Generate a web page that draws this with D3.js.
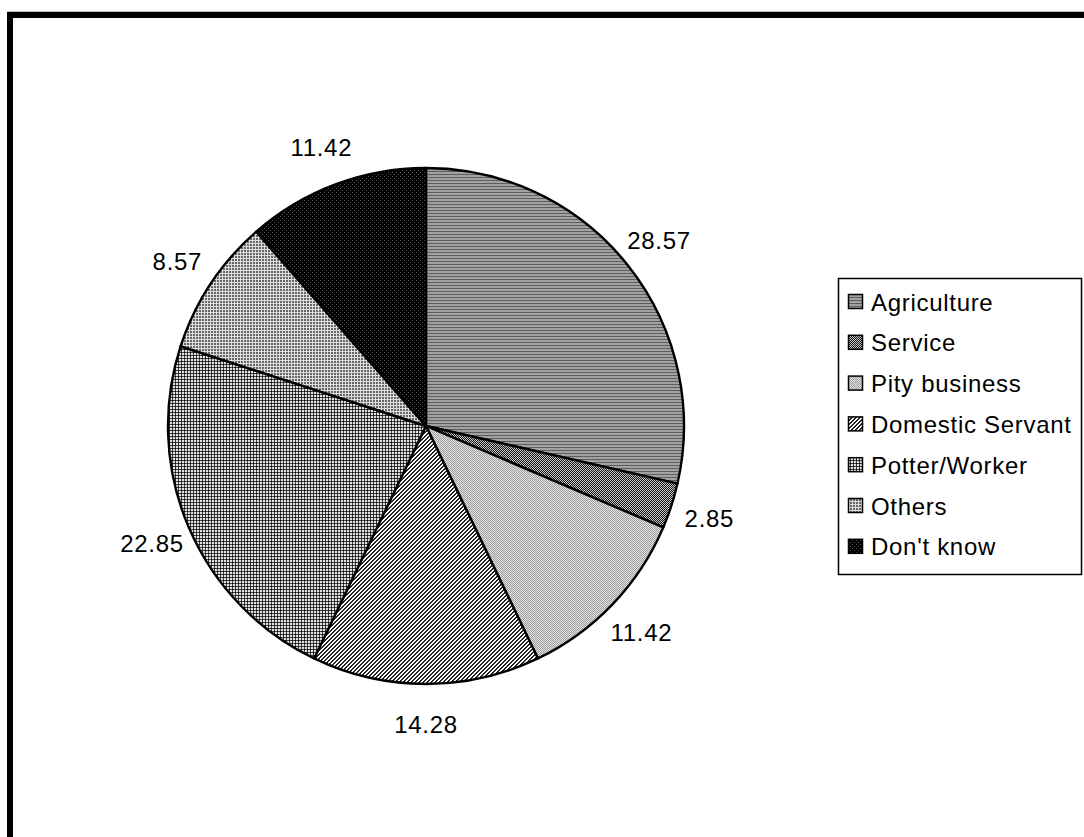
<!DOCTYPE html>
<html>
<head>
<meta charset="utf-8">
<script src="https://cdn.jsdelivr.net/npm/d3@7"></script>
<style>
  html, body { margin: 0; padding: 0; background: #fff; }
  svg { display: block; }
  text { font-family: "Liberation Sans", Arial, sans-serif; fill: #000; letter-spacing: 0.7px; }
</style>
</head>
<body>
<svg id="chart" width="1084" height="837"></svg>
<script>
// Occupation shares (%)
const categories = ["Agriculture", "Service", "Pity business", "Domestic Servant", "Potter/Worker", "Others", "Don't know"];
const values = [28.57, 2.85, 11.42, 14.28, 22.85, 8.57, 11.42];
const valueLabels = ["28.57", "2.85", "11.42", "14.28", "22.85", "8.57", "11.42"];

const svg = d3.select("#chart");
const W = 1084, H = 837;

// ---- fill patterns (pixel tiles) ----
const defs = svg.append("defs");
function tile(id, size, bg, pixels) {
  const p = defs.append("pattern")
    .attr("id", id).attr("patternUnits", "userSpaceOnUse")
    .attr("width", size[0]).attr("height", size[1]);
  p.append("rect").attr("width", size[0]).attr("height", size[1]).attr("fill", bg)
    .attr("shape-rendering", "crispEdges");
  pixels.forEach(([x, y, w, h, c]) => {
    p.append("rect").attr("x", x).attr("y", y).attr("width", w).attr("height", h)
      .attr("fill", c).attr("shape-rendering", "crispEdges");
  });
  return `url(#${id})`;
}

const fills = [
  // horizontal gray stripes
  tile("p-agri", [4, 3], "#a2a2a2", [[0, 0, 4, 1, "#5e5e5e"]]),
  // dark checker
  tile("p-serv", [2, 2], "#151515", [[0, 0, 1, 1, "#c8c8c8"], [1, 1, 1, 1, "#c8c8c8"]]),
  // light dotted
  tile("p-pity", [2, 2], "#e0e0e0", [[0, 0, 1, 1, "#a0a0a0"], [1, 1, 1, 1, "#a0a0a0"]]),
  // upward diagonal hatch
  tile("p-dom", [4, 4], "#ffffff", d3.range(16).map(i => [i % 4, Math.floor(i / 4)])
    .filter(([x, y]) => (x + y) % 4 < 2).map(([x, y]) => [x, y, 1, 1, "#222"])),
  // plaid grid
  tile("p-pot", [3, 3], "#e0e0e0", [[0, 1, 3, 1, "#404040"], [1, 0, 1, 3, "#404040"], [1, 1, 1, 1, "#000"]]),
  // fine light grid on gray
  tile("p-oth", [3, 3], "#666666", [[0, 0, 3, 1, "#dddddd"], [0, 0, 1, 3, "#dddddd"]]),
  // black with dark dots
  tile("p-dk", [4, 4], "#000000", [[0, 0, 1, 1, "#555"], [2, 2, 1, 1, "#555"]])
];

// ---- frame ----
svg.append("rect").attr("x", 7).attr("y", 11).attr("width", W - 7).attr("height", 1)
  .attr("fill", "#bdbdbd");
svg.append("rect").attr("x", 7).attr("y", 12).attr("width", W - 7).attr("height", 6)
  .attr("fill", "#000");
svg.append("rect").attr("x", 7).attr("y", 12).attr("width", 6).attr("height", H - 12)
  .attr("fill", "#000");

// ---- pie ----
const cx = 426, cy = 426, R = 258, labelR = 298;
const pie = d3.pie().sort(null).value(d => d);
const arcs = pie(values);
const arc = d3.arc().innerRadius(0).outerRadius(R);
const labelArc = d3.arc().innerRadius(labelR).outerRadius(labelR);

const g = svg.append("g").attr("transform", `translate(${cx},${cy})`);
g.selectAll("path.slice").data(arcs).join("path")
  .attr("class", "slice")
  .attr("d", arc)
  .attr("fill", (d, i) => fills[i])
  .attr("stroke", "#000")
  .attr("stroke-width", 2.4)
  .attr("stroke-linejoin", "round");

g.selectAll("text.val").data(arcs).join("text")
  .attr("class", "val")
  .attr("transform", d => `translate(${labelArc.centroid(d)})`)
  .attr("text-anchor", "middle")
  .attr("dy", "0.36em")
  .attr("font-size", 24)
  .text((d, i) => valueLabels[i]);

// ---- legend ----
const lg = svg.append("g");
lg.append("rect").attr("x", 838.5).attr("y", 278.5).attr("width", 243).attr("height", 296)
  .attr("fill", "#fff").attr("stroke", "#000").attr("stroke-width", 1.5);
const y0 = 302, step = 40.8;
categories.forEach((c, i) => {
  const y = y0 + i * step;
  lg.append("rect").attr("x", 848.5).attr("y", y - 7.5).attr("width", 14).attr("height", 14)
    .attr("fill", fills[i]).attr("stroke", "#000").attr("stroke-width", 1.5);
  lg.append("text").attr("x", 871).attr("y", y).attr("dy", "0.36em")
    .attr("font-size", 24).text(c);
});
</script>
</body>
</html>
